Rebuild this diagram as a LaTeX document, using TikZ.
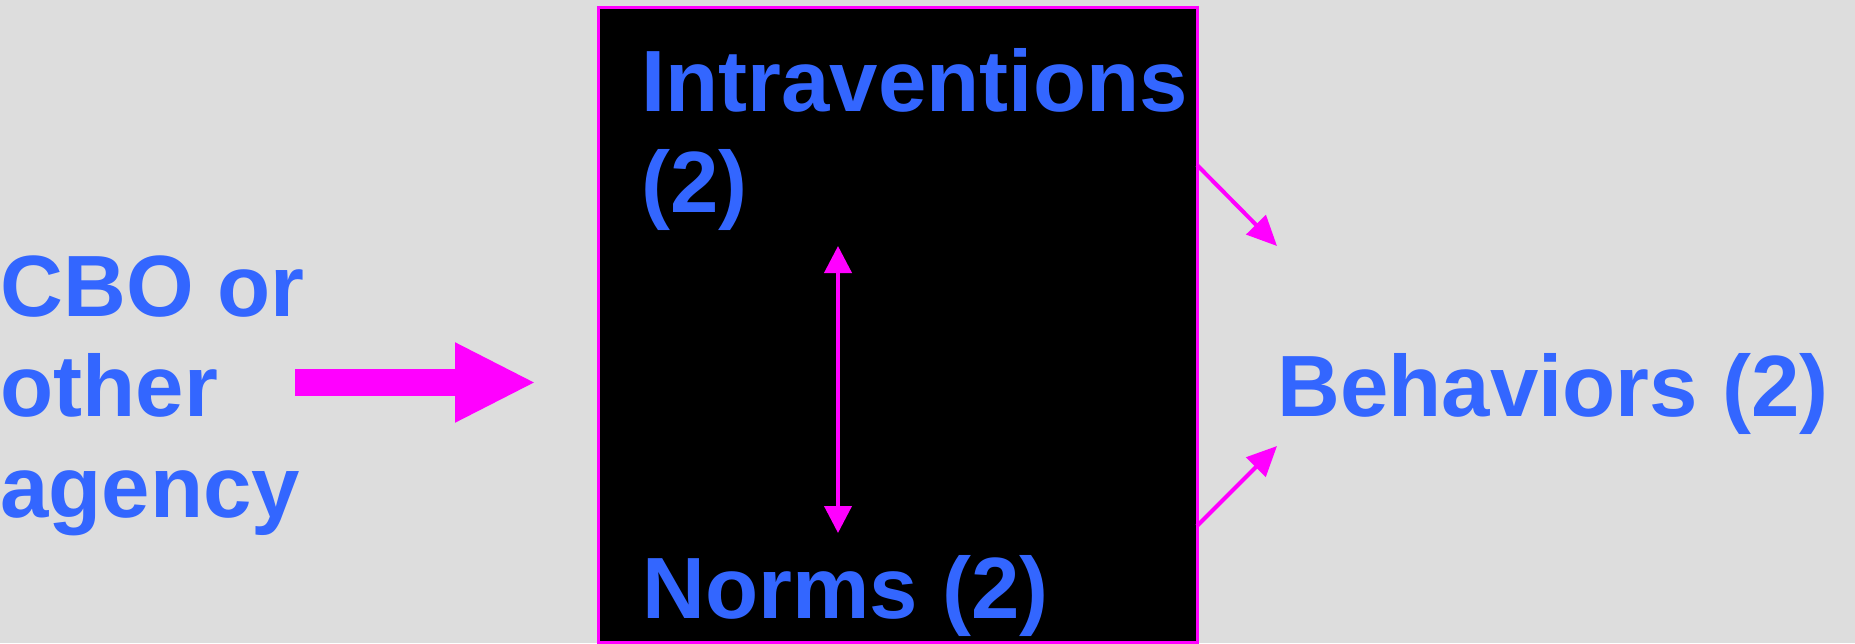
\documentclass[tikz,border=0pt]{standalone}
\usepackage{fontspec}
\setmainfont{Liberation Sans}
\usepackage{tikz}
\usetikzlibrary{arrows.meta}

\definecolor{labelblue}{HTML}{3366FF}
\definecolor{linkpink}{HTML}{FF00FF}
\definecolor{paper}{HTML}{DDDDDD}

\begin{document}
\begin{tikzpicture}[x=0.5pt, y=-0.5pt,
    lbl/.style={font=\fontsize{43.5}{50.25}\selectfont\bfseries, text=labelblue, inner sep=0pt, align=left, anchor=base west},
    thinarrow/.style={draw=linkpink, line width=2pt, -{Triangle[length=15pt, width=13.5pt]}}]
    % background
    \fill[paper] (0, 0) rectangle (1855, 643);
    \useasboundingbox (0, 0) rectangle (1855, 643);

    % draw the black box
    \filldraw[fill=black, draw=linkpink, line width=1.5pt] (598, 7) rectangle (1197, 642);

    % draw labels (base is the last line)
    \node[lbl] (cbo) at (0, 517) {CBO or\\other\\agency};
    \node[lbl] (intra) at (641, 212) {Intraventions\\(2)};
    \node[lbl] (norms) at (642, 618) {Norms (2)};
    \node[lbl] (behav) at (1277, 416) {Behaviors (2)};

    % draw arrows
    \coordinate (bigtail) at (295, 382.5);
    \coordinate (bigtip) at (536, 382.5);
    \draw[linkpink, line width=13.5pt, -{Triangle[length=40.5pt, width=37pt]}] (bigtail) -- (bigtip);

    \coordinate (linktop) at (838, 246);
    \coordinate (linkbot) at (838, 533);
    \draw[linkpink, line width=2pt, {Triangle[length=13.5pt, width=13.5pt]}-{Triangle[length=13.5pt, width=13.5pt]}] (linktop) -- (linkbot);

    \coordinate (upfrom) at (1197, 165);
    \coordinate (upto) at (1277, 246);
    \coordinate (lowfrom) at (1197, 526);
    \coordinate (lowto) at (1277, 446);
    \draw[thinarrow] (upfrom) -- (upto);
    \draw[thinarrow] (lowfrom) -- (lowto);
\end{tikzpicture}
\end{document}
